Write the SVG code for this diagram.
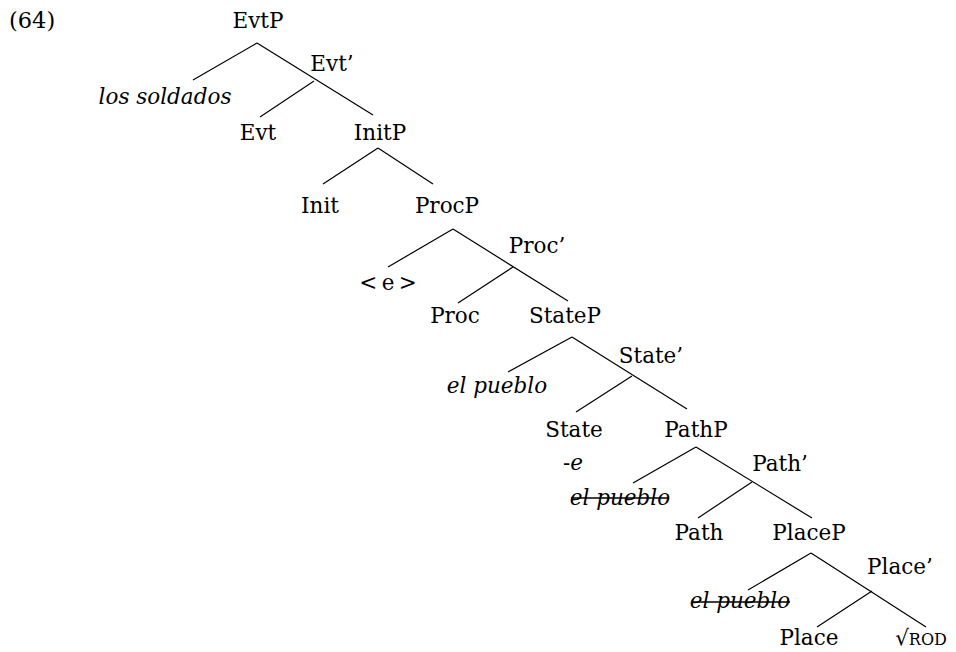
<svg xmlns="http://www.w3.org/2000/svg" width="956" height="652" viewBox="0 0 956 652">
<style>
text{font-family:"DejaVu Serif","Liberation Serif",serif;font-size:21.5px;fill:#000;text-anchor:middle}
.it{font-style:italic}
.sc{font-size:16px}
.edge{stroke:#000;stroke-width:1.2;fill:none}
.strike{stroke:#000;stroke-width:1.3}
</style>
<rect width="956" height="652" fill="#fff"/>
<text x="9" y="28" style="text-anchor:start;font-size:22.5px">(64)</text>
<g id="connectors">
<line class="edge" x1="257" y1="43" x2="193" y2="80"/>
<line class="edge" x1="257" y1="43" x2="373" y2="115"/>
<line class="edge" x1="314" y1="81" x2="260" y2="117"/>
<line class="edge" x1="378" y1="148" x2="323" y2="184"/>
<line class="edge" x1="378" y1="148" x2="433" y2="184"/>
<line class="edge" x1="453" y1="229" x2="388" y2="267"/>
<line class="edge" x1="453" y1="229" x2="568" y2="301"/>
<line class="edge" x1="513" y1="267" x2="458" y2="303"/>
<line class="edge" x1="572" y1="337" x2="508" y2="372"/>
<line class="edge" x1="572" y1="337" x2="687" y2="409"/>
<line class="edge" x1="632" y1="376" x2="576" y2="412"/>
<line class="edge" x1="696" y1="447" x2="633" y2="483"/>
<line class="edge" x1="696" y1="447" x2="812" y2="518"/>
<line class="edge" x1="752" y1="482" x2="698" y2="518"/>
<line class="edge" x1="811" y1="553" x2="748" y2="590"/>
<line class="edge" x1="811" y1="553" x2="926" y2="627"/>
<line class="edge" x1="872" y1="591" x2="817" y2="627"/>
</g>
<g id="EvtP"><text x="258" y="28">EvtP</text></g>
<g id="Evt-bar"><text x="332" y="71">Evt’</text></g>
<g id="los-soldados"><text class="it" x="165" y="104">los soldados</text></g>
<g id="Evt"><text x="258" y="140">Evt</text></g>
<g id="InitP"><text x="380" y="140">InitP</text></g>
<g id="Init"><text x="320" y="213">Init</text></g>
<g id="ProcP"><text x="447" y="213">ProcP</text></g>
<g id="Proc-bar"><text x="537" y="253">Proc’</text></g>
<g id="e-trace"><text x="388" y="290">&lt;&#8201;e&#8201;&gt;</text></g>
<g id="Proc"><text x="455" y="323">Proc</text></g>
<g id="StateP"><text x="565" y="323">StateP</text></g>
<g id="State-bar"><text x="651" y="363">State’</text></g>
<g id="el-pueblo-1"><text class="it" x="497" y="393">el pueblo</text></g>
<g id="State"><text x="574" y="437">State</text><text x="573" y="470"><tspan>-</tspan><tspan class="it">e</tspan></text></g>
<g id="PathP"><text x="696" y="437">PathP</text></g>
<g id="Path-bar"><text x="780" y="471">Path’</text></g>
<g id="el-pueblo-2"><text class="it" x="620" y="505">el pueblo</text><line class="strike" x1="571" y1="498" x2="669" y2="498"/></g>
<g id="Path"><text x="699" y="540">Path</text></g>
<g id="PlaceP"><text x="809" y="540">PlaceP</text></g>
<g id="Place-bar"><text x="900" y="574">Place’</text></g>
<g id="el-pueblo-3"><text class="it" x="740" y="608">el pueblo</text><line class="strike" x1="692" y1="602" x2="790" y2="602"/></g>
<g id="Place"><text x="809" y="645">Place</text></g>
<g id="ROD"><text x="921" y="645"><tspan>√</tspan><tspan class="sc">ROD</tspan></text></g>
</svg>
